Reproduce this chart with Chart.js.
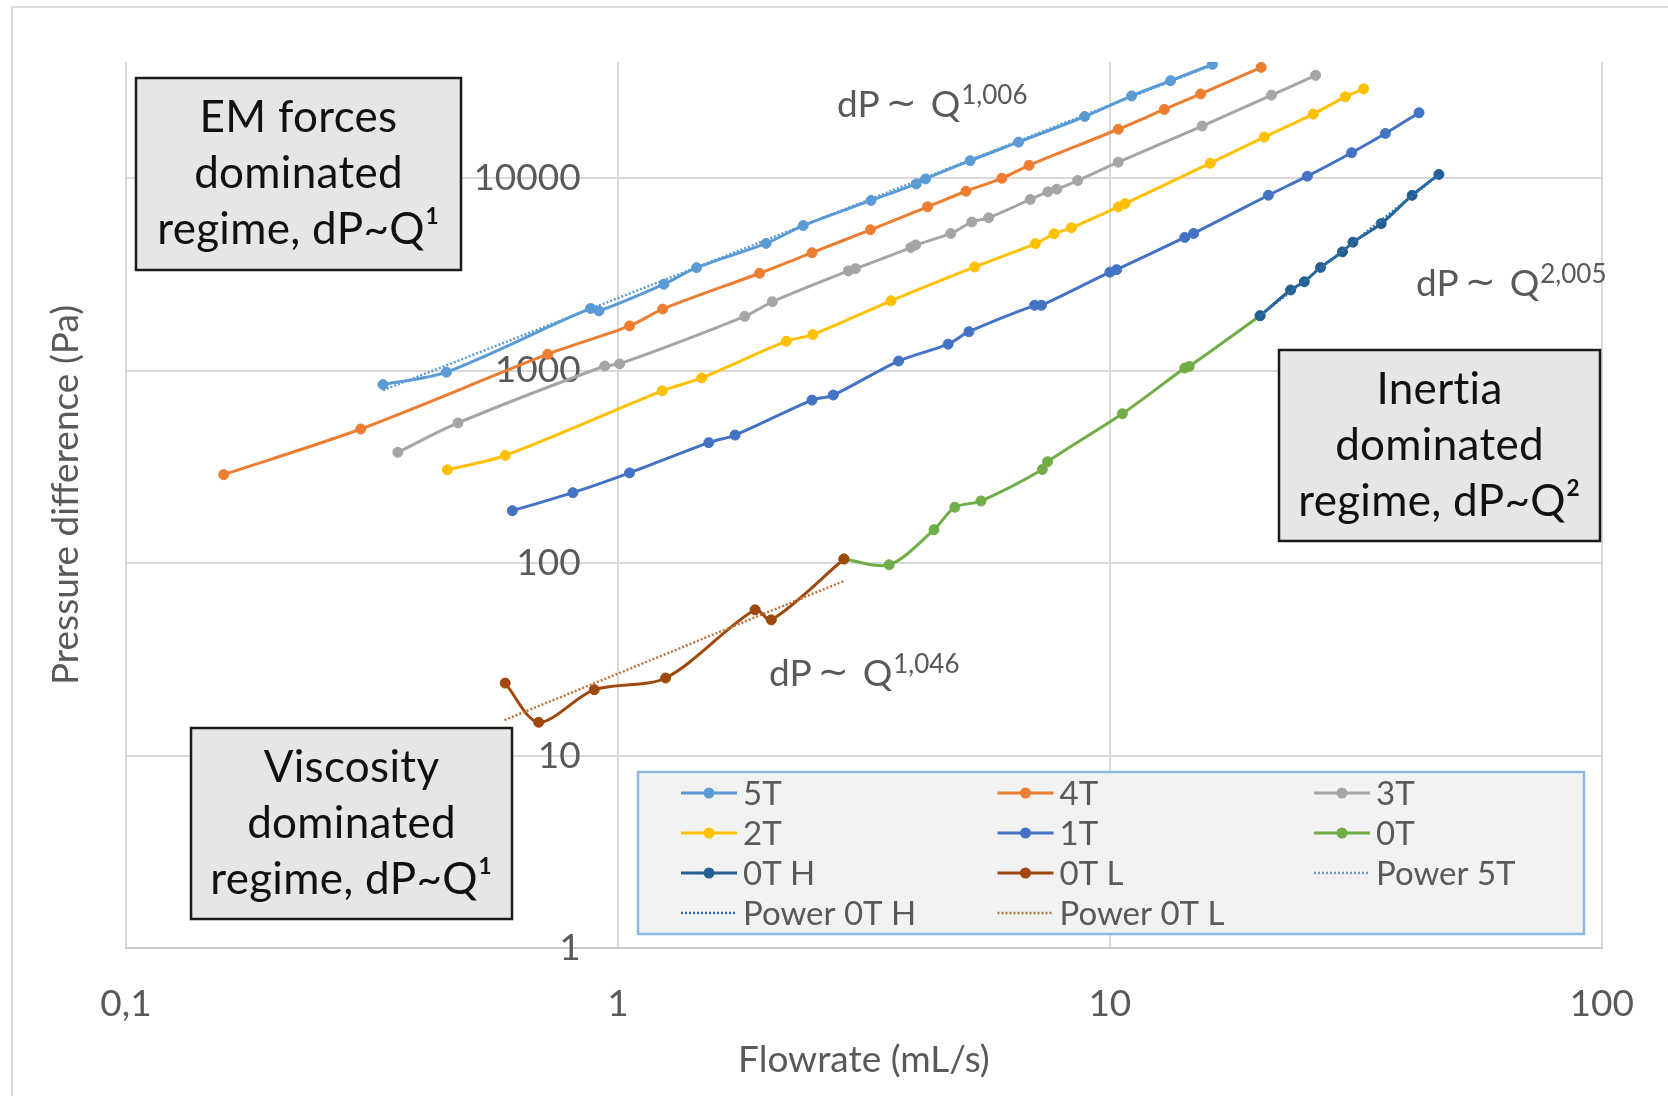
<!DOCTYPE html>
<html>
<head>
<meta charset="utf-8">
<title>Pressure difference vs flowrate</title>
<script src="https://cdn.jsdelivr.net/npm/chart.js@4.4.1/dist/chart.umd.min.js"></script>
<style>
  html, body { margin: 0; padding: 0; background: #fff; }
  #wrap { position: relative; width: 1668px; height: 1096px; }
</style>
</head>
<body>
<div id="wrap"><canvas id="flowChart" width="1668" height="1096"></canvas></div>
<script>
// flowrate (mL/s) and pressure difference (Pa) per magnetic field
const Q_5T = [0.333, 0.448, 0.88, 0.915, 1.24, 1.445, 2.0, 2.38, 3.27, 4.04, 4.22, 5.2, 6.52, 8.89, 11.07, 13.29, 16.16];
const DP_5T = [845, 980, 2100, 2040, 2805, 3420, 4570, 5660, 7640, 9310, 9880, 12290, 15350, 20850, 26660, 32000, 38880];

const Q_4T = [0.158, 0.30, 0.72, 1.056, 1.233, 1.94, 2.48, 3.26, 4.26, 5.1, 6.03, 6.85, 10.4, 12.9, 15.3, 20.3];
const DP_4T = [288, 497, 1215, 1705, 2085, 3200, 4090, 5380, 7080, 8530, 9960, 11630, 17900, 22680, 27300, 37500];

const Q_3T = [0.357, 0.473, 0.94, 1.008, 1.81, 2.06, 2.94, 3.04, 3.94, 4.03, 4.75, 5.24, 5.67, 6.89, 7.48, 7.8, 8.6, 10.4, 15.4, 21.3, 26.2];
const DP_3T = [376, 534, 1055, 1082, 1910, 2275, 3290, 3380, 4350, 4490, 5150, 5900, 6210, 7730, 8470, 8740, 9690, 12080, 18600, 26900, 34100];

const Q_2T = [0.45, 0.59, 1.23, 1.48, 2.2, 2.49, 3.59, 5.31, 7.06, 7.7, 8.35, 10.4, 10.74, 16.0, 20.6, 25.9, 30.1, 32.8];
const DP_2T = [305, 362, 784, 915, 1420, 1536, 2300, 3450, 4560, 5130, 5510, 7070, 7360, 11930, 16300, 21470, 26370, 29000];

const Q_1T = [0.61, 0.81, 1.056, 1.53, 1.73, 2.48, 2.74, 3.72, 4.69, 5.17, 7.03, 7.26, 10.0, 10.32, 14.2, 14.8, 21.0, 25.2, 31.0, 36.3, 42.5];
const DP_1T = [187, 232, 294, 422, 462, 702, 746, 1120, 1370, 1590, 2180, 2180, 3240, 3340, 4910, 5150, 8130, 10210, 13520, 17010, 21800];

const Q_0T = [2.88, 3.56, 4.39, 4.84, 5.47, 7.29, 7.47, 10.6, 14.2, 14.5, 20.2];
const DP_0T = [105, 98, 149, 195, 210, 306, 336, 596, 1030, 1050, 1925];

const Q_0TH = [20.2, 23.3, 24.85, 26.8, 29.7, 31.2, 35.6, 41.15, 46.65];
const DP_0TH = [1925, 2620, 2890, 3430, 4130, 4640, 5790, 8120, 10430];

const Q_0TL = [0.59, 0.69, 0.895, 1.25, 1.9, 2.05, 2.88];
const DP_0TL = [23.8, 14.9, 22.0, 25.3, 57.2, 50.7, 105];

// power-law fits, end points only (straight on log-log)
const Q_POW_5T = [0.333, 16.16];
const DP_POW_5T = [790, 38600];
const Q_POW_0TH = [20.2, 46.65];
const DP_POW_0TH = [1925, 10380];
const Q_POW_0TL = [0.588, 2.89];
const DP_POW_0TL = [15.3, 81];

const X_TICKS = [0.1, 1, 10, 100];
const X_TICK_LABELS = ['0,1', '1', '10', '100'];
const Y_TICKS = [1, 10, 100, 1000, 10000];

const SERIES = [
  { label: '5T', q: Q_5T, dp: DP_5T, color: '#5b9bd5' },
  { label: '4T', q: Q_4T, dp: DP_4T, color: '#ed7d31' },
  { label: '3T', q: Q_3T, dp: DP_3T, color: '#a5a5a5' },
  { label: '2T', q: Q_2T, dp: DP_2T, color: '#ffc000' },
  { label: '1T', q: Q_1T, dp: DP_1T, color: '#4472c4' },
  { label: '0T', q: Q_0T, dp: DP_0T, color: '#70ad47' },
  { label: '0T H', q: Q_0TH, dp: DP_0TH, color: '#255e91' },
  { label: '0T L', q: Q_0TL, dp: DP_0TL, color: '#9e480e' },
];
const TRENDS = [
  { label: 'Power 5T', q: Q_POW_5T, dp: DP_POW_5T, color: '#5b9bd5' },
  { label: 'Power 0T H', q: Q_POW_0TH, dp: DP_POW_0TH, color: '#2e75b6' },
  { label: 'Power 0T L', q: Q_POW_0TL, dp: DP_POW_0TL, color: '#c0703a' },
];

const FONT = 'Lato, "Open Sans", sans-serif';
const GREY_TEXT = '#595959';

const toPoints = (q, dp) => q.map((x, i) => ({ x, y: dp[i] }));

const datasets = [
  ...SERIES.map((s) => ({
    label: s.label,
    data: toPoints(s.q, s.dp),
    showLine: true,
    borderColor: s.color,
    backgroundColor: s.color,
    pointBackgroundColor: s.color,
    pointBorderColor: s.color,
    borderWidth: 3,
    pointRadius: 5,
    pointBorderWidth: 1,
    tension: 0.3,
  })),
  ...TRENDS.map((t) => ({
    label: t.label,
    data: toPoints(t.q, t.dp),
    showLine: true,
    borderColor: t.color,
    backgroundColor: t.color,
    borderWidth: 2.5,
    borderDash: [2, 2],
    pointRadius: 0,
    tension: 0,
    isTrend: true,
  })),
];
// later series sit on top
datasets.forEach((ds, i) => { ds.order = datasets.length - i; });

const REGIME_BOXES = [
  { lines: ['EM forces', 'dominated', 'regime, dP~Q¹'], x: 136, y: 78, w: 325, h: 192 },
  { lines: ['Inertia', 'dominated', 'regime, dP~Q²'], x: 1279, y: 350, w: 321, h: 191 },
  { lines: ['Viscosity', 'dominated', 'regime, dP~Q¹'], x: 191, y: 728, w: 321, h: 191 },
];

const SLOPE_LABELS = [
  { exp: '1,006', x: 837, y: 117 },
  { exp: '2,005', x: 1416, y: 296 },
  { exp: '1,046', x: 769, y: 686 },
];

const chartFrame = {
  id: 'chartFrame',
  beforeDraw(chart) {
    const { ctx, width, height } = chart;
    ctx.save();
    ctx.fillStyle = '#fff';
    ctx.fillRect(0, 0, width, height);
    ctx.strokeStyle = '#d9d9d9';
    ctx.lineWidth = 2;
    ctx.beginPath();
    ctx.moveTo(12, height);
    ctx.lineTo(12, 7);
    ctx.lineTo(width, 7);
    ctx.stroke();
    // vertical axis title
    ctx.translate(66, 495);
    ctx.rotate(-Math.PI / 2);
    ctx.fillStyle = GREY_TEXT;
    ctx.font = '37px ' + FONT;
    ctx.textAlign = 'center';
    ctx.textBaseline = 'middle';
    ctx.fillText('Pressure difference (Pa)', 0, 0);
    ctx.restore();
  },
};

const overlays = {
  id: 'overlays',
  afterDatasetsDraw(chart) {
    const { ctx } = chart;
    ctx.save();

    // regime boxes
    REGIME_BOXES.forEach((b) => {
      ctx.fillStyle = '#e6e6e6';
      ctx.fillRect(b.x, b.y, b.w, b.h);
      ctx.strokeStyle = '#1a1a1a';
      ctx.lineWidth = 2.5;
      ctx.strokeRect(b.x, b.y, b.w, b.h);
      ctx.fillStyle = '#111';
      ctx.font = '44px ' + FONT;
      ctx.letterSpacing = '0.3px';
      ctx.textAlign = 'center';
      ctx.textBaseline = 'middle';
      const cx = b.x + b.w / 2;
      const cy = b.y + b.h / 2;
      b.lines.forEach((line, i) => ctx.fillText(line, cx, cy + (i - 1) * 56));
      ctx.letterSpacing = '0px';
    });

    // power-law exponents: "dP ∼ Q" with the exponent raised
    SLOPE_LABELS.forEach((s) => {
      ctx.fillStyle = GREY_TEXT;
      ctx.textAlign = 'left';
      ctx.textBaseline = 'alphabetic';
      let x = s.x;
      ctx.font = '37px ' + FONT;
      ctx.fillText('dP', x, s.y);
      x += ctx.measureText('dP').width + 6;
      ctx.font = '37px "DejaVu Sans"';
      ctx.fillText('∼', x, s.y - 2);
      x += ctx.measureText('∼').width + 14;
      ctx.font = '37px ' + FONT;
      ctx.fillText('Q', x, s.y);
      x += ctx.measureText('Q').width + 1;
      ctx.font = '26px ' + FONT;
      ctx.fillText(s.exp, x, s.y - 13);
    });

    // legend
    const lx = 638, ly = 772, lw = 946, lh = 162;
    ctx.fillStyle = '#f2f2f2';
    ctx.fillRect(lx, ly, lw, lh);
    ctx.strokeStyle = '#8db8e2';
    ctx.lineWidth = 2.5;
    ctx.strokeRect(lx, ly, lw, lh);
    chart.data.datasets.forEach((ds, i) => {
      const col = i % 3;
      const row = Math.floor(i / 3);
      const x = 681 + col * 316.5;
      const y = 793 + row * 40;
      ctx.strokeStyle = ds.borderColor;
      ctx.lineWidth = ds.isTrend ? 2.5 : 3;
      ctx.setLineDash(ds.isTrend ? [2, 2] : []);
      ctx.beginPath();
      ctx.moveTo(x, y);
      ctx.lineTo(x + 56, y);
      ctx.stroke();
      ctx.setLineDash([]);
      if (!ds.isTrend) {
        ctx.fillStyle = ds.borderColor;
        ctx.beginPath();
        ctx.arc(x + 28, y, 5.5, 0, Math.PI * 2);
        ctx.fill();
      }
      ctx.fillStyle = GREY_TEXT;
      ctx.font = '33px ' + FONT;
      ctx.textAlign = 'left';
      ctx.textBaseline = 'middle';
      ctx.fillText(ds.label, x + 62, y + 1);
    });
    ctx.restore();
  },
};

new Chart(document.getElementById('flowChart'), {
  type: 'scatter',
  data: { datasets },
  options: {
    responsive: false,
    animation: false,
    devicePixelRatio: 1,
    layout: { padding: { left: 126, top: 62, right: 61, bottom: 14 } },
    plugins: { legend: { display: false }, tooltip: { enabled: false } },
    scales: {
      x: {
        type: 'logarithmic',
        min: 0.1,
        max: 100,
        afterBuildTicks: (scale) => { scale.ticks = X_TICKS.map((value) => ({ value })); },
        ticks: {
          autoSkip: false,
          maxRotation: 0,
          padding: 34,
          color: GREY_TEXT,
          font: { family: FONT, size: 37 },
          callback: (v, i) => X_TICK_LABELS[i],
        },
        grid: { color: '#d9d9d9', lineWidth: 2, drawTicks: false },
        border: { display: true, color: '#cccccc', width: 2 },
        title: {
          display: true,
          text: 'Flowrate (mL/s)',
          color: GREY_TEXT,
          font: { family: FONT, size: 37 },
          // tick padding is counted on both sides of the labels, pull the title back up
          padding: { top: -23, bottom: 0 },
        },
      },
      y: {
        type: 'logarithmic',
        min: 1,
        max: 40000,
        // labels end just left of the Q = 1 gridline
        position: { x: 0.84 },
        afterBuildTicks: (scale) => { scale.ticks = Y_TICKS.map((value) => ({ value })); },
        ticks: {
          autoSkip: false,
          color: GREY_TEXT,
          font: { family: FONT, size: 37 },
          callback: (v) => String(v),
        },
        grid: { color: '#d9d9d9', lineWidth: 2, drawTicks: false },
        border: { display: false },
      },
    },
  },
  plugins: [chartFrame, overlays],
});
</script>
</body>
</html>
